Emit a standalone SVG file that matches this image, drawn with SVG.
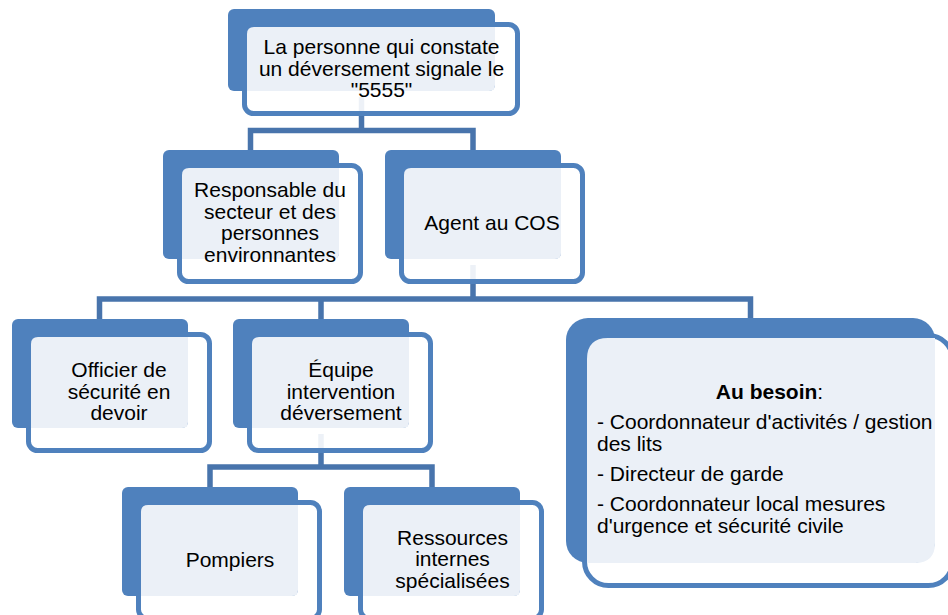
<svg xmlns="http://www.w3.org/2000/svg" width="948" height="615" viewBox="0 0 948 615">
  <style>
    .conn { fill: none; stroke: #4874AC; stroke-width: 5.5; stroke-linejoin: miter; stroke-linecap: butt; }
    .frame { fill: #FFFFFF; fill-opacity: 0.9; stroke: #4F81BD; stroke-width: 5; }
    .tab { fill: #4F81BD; }
    .face { fill: #EBF0F7; }
    text { font-family: "Liberation Sans", Arial, sans-serif; font-size: 21px; fill: #000000; }
    .c { text-anchor: middle; }
  </style>

  <!-- connectors (drawn first so they show faintly through the frames) -->
  <g id="connectors">
    <path class="conn" d="M361.5,97 V130.5 M250.5,150 V130.5 H473 V150"/>
    <path class="conn" d="M473,265 V299 M99.5,319 V299 H750.5 V318 M321,299 V319"/>
    <path class="conn" d="M321,434 V467 M210,487 V467 H432 V487"/>
  </g>

  <!-- top node -->
  <g id="node-signal">
    <rect class="frame" x="244.5" y="24.5" width="273" height="89" rx="9"/>
    <rect class="tab" x="228" y="9" width="267" height="82" rx="6"/>
    <path class="face" d="M247,34 Q247,27 254,27 H495 V85 Q495,91 489,91 H247 Z"/>
    <text class="c" x="381.5" y="54">La personne qui constate</text>
    <text class="c" x="381.5" y="75.5">un déversement signale le</text>
    <text class="c" x="381.5" y="97">"5555"</text>
  </g>

  <!-- level 2 -->
  <g id="node-responsable">
    <rect class="frame" x="179.5" y="165.5" width="181" height="116" rx="9"/>
    <rect class="tab" x="163" y="150" width="176" height="109" rx="6"/>
    <path class="face" d="M182,175 Q182,168 189,168 H339 V253 Q339,259 333,259 H182 Z"/>
    <text class="c" x="270" y="197">Responsable du</text>
    <text class="c" x="270" y="218.7">secteur et des</text>
    <text class="c" x="270" y="240.4">personnes</text>
    <text class="c" x="270" y="262.1">environnantes</text>
  </g>

  <g id="node-agent">
    <rect class="frame" x="401.5" y="165.5" width="181" height="116" rx="9"/>
    <rect class="tab" x="385" y="150" width="176" height="109" rx="6"/>
    <path class="face" d="M404,175 Q404,168 411,168 H561 V253 Q561,259 555,259 H404 Z"/>
    <text class="c" x="492" y="230">Agent au COS</text>
  </g>

  <!-- level 3 -->
  <g id="node-officier">
    <rect class="frame" x="28.5" y="334.5" width="181" height="116" rx="9"/>
    <rect class="tab" x="12" y="319" width="176" height="109" rx="6"/>
    <path class="face" d="M31,344 Q31,337 38,337 H188 V422 Q188,428 182,428 H31 Z"/>
    <text class="c" x="119" y="377">Officier de</text>
    <text class="c" x="119" y="398.5">sécurité en</text>
    <text class="c" x="119" y="420">devoir</text>
  </g>

  <g id="node-equipe">
    <rect class="frame" x="249.5" y="334.5" width="181" height="116" rx="9"/>
    <rect class="tab" x="233" y="319" width="176" height="109" rx="6"/>
    <path class="face" d="M252,344 Q252,337 259,337 H409 V422 Q409,428 403,428 H252 Z"/>
    <text class="c" x="341" y="377">Équipe</text>
    <text class="c" x="341" y="398.5">intervention</text>
    <text class="c" x="341" y="420">déversement</text>
  </g>

  <g id="node-besoin">
    <rect class="frame" x="584.5" y="335.5" width="368" height="250" rx="24"/>
    <rect class="tab" x="566" y="318" width="369" height="245" rx="22"/>
    <path class="face" d="M587,359 Q587,338 608,338 H935 V543 Q935,563 915,563 H587 Z"/>
    <text class="c" x="769.5" y="399"><tspan font-weight="bold">Au besoin</tspan>:</text>
    <text x="597" y="428.5">- Coordonnateur d'activités / gestion</text>
    <text x="597" y="450.5">des lits</text>
    <text x="597" y="481">- Directeur de garde</text>
    <text x="597" y="511">- Coordonnateur local mesures</text>
    <text x="597" y="533">d'urgence et sécurité civile</text>
  </g>

  <!-- level 4 -->
  <g id="node-pompiers">
    <rect class="frame" x="138.5" y="502.5" width="181" height="116" rx="9"/>
    <rect class="tab" x="122" y="487" width="176" height="109" rx="6"/>
    <path class="face" d="M141,512 Q141,505 148,505 H298 V590 Q298,596 292,596 H141 Z"/>
    <text class="c" x="230" y="567">Pompiers</text>
  </g>

  <g id="node-ressources">
    <rect class="frame" x="360.5" y="502.5" width="181" height="116" rx="9"/>
    <rect class="tab" x="344" y="487" width="176" height="109" rx="6"/>
    <path class="face" d="M363,512 Q363,505 370,505 H520 V590 Q520,596 514,596 H363 Z"/>
    <text class="c" x="452.5" y="544.5">Ressources</text>
    <text class="c" x="452.5" y="566">internes</text>
    <text class="c" x="452.5" y="587.5">spécialisées</text>
  </g>
</svg>
